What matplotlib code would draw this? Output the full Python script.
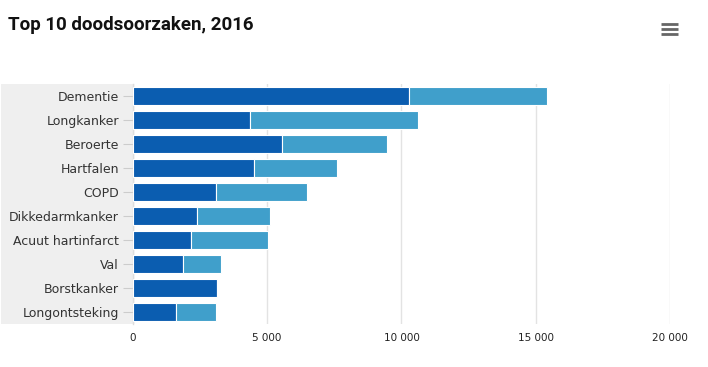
import matplotlib
matplotlib.use("Agg")
import matplotlib.pyplot as plt
from matplotlib.patches import Rectangle
from matplotlib.lines import Line2D
from matplotlib.ticker import FuncFormatter

categories = ["Dementie", "Longkanker", "Beroerte", "Hartfalen", "COPD",
              "Dikkedarmkanker", "Acuut hartinfarct", "Val", "Borstkanker",
              "Longontsteking"]
dark_values = [10280, 4370, 5570, 4520, 3110, 2400, 2180, 1880, 3140, 1620]
light_values = [5130, 6240, 3890, 3080, 3370, 2710, 2850, 1410, 0, 1480]
x_ticks = [0, 5000, 10000, 15000, 20000]
title = "Top 10 doodsoorzaken, 2016"

dark_color = "#0b5db0"
light_color = "#409fcb"

W, H = 708, 367
fig = plt.figure(figsize=(W / 100, H / 100), dpi=100)
left, right, top, bottom = 132.7, 670.3, 83.7, 323.7
ax = fig.add_axes([left / W, 1 - bottom / H, (right - left) / W, (bottom - top) / H])

# grey label background
fig.add_artist(Rectangle((1 / W, 1 - bottom / H), (left - 1) / W, (bottom - top) / H,
                         transform=fig.transFigure, facecolor="#efefef",
                         edgecolor="none", zorder=0))

y = list(range(len(categories)))
ax.barh(y, dark_values, height=0.75, color=dark_color, edgecolor="white",
        linewidth=0.8, zorder=3)
ax.barh(y, light_values, left=dark_values, height=0.75, color=light_color,
        edgecolor="white", linewidth=0.8, zorder=3)

ax.set_xlim(0, 20000)
ax.set_ylim(len(categories) - 0.5, -0.5)
ax.set_yticks(y)
ax.set_yticklabels(categories, fontsize=9, color="#333333")
ax.set_xticks(x_ticks)
ax.xaxis.set_major_formatter(FuncFormatter(lambda v, p: f"{int(v):,}".replace(",", " ")))
ax.tick_params(axis="x", length=0, labelsize=7.5, pad=7, labelcolor="#222222")
ax.tick_params(axis="y", length=7, width=0.8, color="#cccccc", pad=3)
ax.grid(axis="x", color="#e3e3e3", linewidth=1, zorder=0)
ax.set_axisbelow(True)
for s in ["top", "right", "bottom"]:
    ax.spines[s].set_visible(False)
ax.spines["left"].set_color("#dddddd")
ax.spines["left"].set_linewidth(1)
ax.patch.set_alpha(0)

fig.text(8 / W, 1 - 25 / H, title, fontsize=13.5, fontweight="bold",
         family="Roboto", color="#111111", va="center", ha="left")

# menu icon
for yy in [24, 29.3, 34.3]:
    fig.add_artist(Line2D([661 / W, 677.5 / W], [1 - yy / H, 1 - yy / H],
                          transform=fig.transFigure, color="#666666",
                          linewidth=2, solid_capstyle="butt"))

fig.savefig("out.png", dpi=100)
